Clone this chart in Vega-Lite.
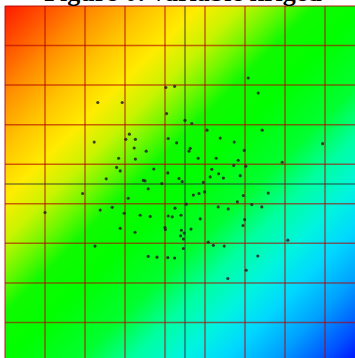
{
  "$schema": "https://vega.github.io/schema/vega-lite/v6.json",
  "width": 360,
  "height": 356,
  "autosize": {"type": "none"},
  "padding": {"left": 5, "top": 6, "right": 0, "bottom": 0},
  "background": "white",
  "title": {
    "text": "Figure 6: variable kriged",
    "font": "Liberation Serif",
    "fontWeight": "bold",
    "fontSize": 26,
    "color": "black",
    "anchor": "middle",
    "baseline": "alphabetic",
    "offset": 0,
    "dy": 22,
    "dx": -2
  },
  "config": {"view": {"stroke": null}},
  "layer": [
    {
      "data": {"values": [{"x0": 0, "x1": 9, "y0": 0, "y1": 9}]},
      "mark": {
        "type": "rect",
        "fill": {
          "gradient": "linear",
          "x1": 0, "y1": 0, "x2": 1, "y2": 1,
          "stops": [
            {"offset": 0.0, "color": "#ff1a00"},
            {"offset": 0.06, "color": "#ff5000"},
            {"offset": 0.13, "color": "#ff9000"},
            {"offset": 0.2, "color": "#ffc400"},
            {"offset": 0.27, "color": "#ffec00"},
            {"offset": 0.33, "color": "#c8f400"},
            {"offset": 0.38, "color": "#70f800"},
            {"offset": 0.43, "color": "#10fa00"},
            {"offset": 0.5, "color": "#00ff00"},
            {"offset": 0.6, "color": "#00ff30"},
            {"offset": 0.67, "color": "#00ffa0"},
            {"offset": 0.74, "color": "#00f4e0"},
            {"offset": 0.8, "color": "#00d8ff"},
            {"offset": 0.87, "color": "#00a0ff"},
            {"offset": 0.94, "color": "#0050ff"},
            {"offset": 1.0, "color": "#0000ff"}
          ]
        }
      },
      "encoding": {
        "x": {"field": "x0", "type": "quantitative", "scale": {"domain": [0, 9], "nice": false, "zero": false}, "axis": null},
        "x2": {"field": "x1"},
        "y": {"field": "y0", "type": "quantitative", "scale": {"domain": [0, 9], "nice": false, "zero": false, "reverse": true}, "axis": null},
        "y2": {"field": "y1"}
      }
    },
    {
      "data": {"values": [
        {"v": 0, "kind": "grid"}, {"v": 1, "kind": "grid"}, {"v": 2, "kind": "grid"}, {"v": 3, "kind": "grid"},
        {"v": 4, "kind": "grid"}, {"v": 5, "kind": "grid"}, {"v": 6, "kind": "grid"}, {"v": 7, "kind": "grid"},
        {"v": 8, "kind": "grid"}, {"v": 9, "kind": "grid"}, {"v": 4.5, "kind": "centre"}
      ]},
      "mark": {"type": "rule", "strokeWidth": 1.5, "opacity": 0.6},
      "encoding": {
        "x": {"field": "v", "type": "quantitative"},
        "color": {"field": "kind", "type": "nominal", "scale": {"domain": ["grid", "centre"], "range": ["#b00000", "#303030"]}, "legend": null}
      }
    },
    {
      "data": {"values": [
        {"v": 0, "kind": "grid"}, {"v": 1, "kind": "grid"}, {"v": 2, "kind": "grid"}, {"v": 3, "kind": "grid"},
        {"v": 4, "kind": "grid"}, {"v": 5, "kind": "grid"}, {"v": 6, "kind": "grid"}, {"v": 7, "kind": "grid"},
        {"v": 8, "kind": "grid"}, {"v": 9, "kind": "grid"}, {"v": 4.5, "kind": "centre"}
      ]},
      "mark": {"type": "rule", "strokeWidth": 1.5, "opacity": 0.6},
      "encoding": {
        "y": {"field": "v", "type": "quantitative"},
        "color": {"field": "kind", "type": "nominal", "legend": null}
      }
    },
    {
      "data": {"values": [
        {"x": 2.32, "y": 2.44}, {"x": 2.93, "y": 2.44}, {"x": 4.02, "y": 2.06}, {"x": 4.24, "y": 2.03},
        {"x": 4.04, "y": 2.72}, {"x": 4.50, "y": 2.89}, {"x": 4.67, "y": 2.97}, {"x": 2.23, "y": 3.44},
        {"x": 3.11, "y": 3.24}, {"x": 3.02, "y": 3.37}, {"x": 3.26, "y": 3.37}, {"x": 3.23, "y": 3.59},
        {"x": 3.53, "y": 3.67}, {"x": 3.26, "y": 3.87}, {"x": 2.84, "y": 3.85}, {"x": 4.08, "y": 3.35},
        {"x": 4.29, "y": 3.46}, {"x": 4.63, "y": 3.60}, {"x": 4.60, "y": 3.67}, {"x": 2.79, "y": 4.08},
        {"x": 2.88, "y": 4.17}, {"x": 2.53, "y": 4.37}, {"x": 3.72, "y": 4.12}, {"x": 4.07, "y": 4.22},
        {"x": 3.46, "y": 4.41}, {"x": 3.50, "y": 4.42}, {"x": 3.58, "y": 4.62}, {"x": 3.92, "y": 4.49},
        {"x": 4.35, "y": 4.36}, {"x": 4.43, "y": 4.44}, {"x": 4.71, "y": 4.78}, {"x": 4.85, "y": 4.74},
        {"x": 3.08, "y": 4.86}, {"x": 1.94, "y": 4.74}, {"x": 5.17, "y": 4.13}, {"x": 5.34, "y": 4.24},
        {"x": 5.13, "y": 4.32}, {"x": 5.46, "y": 4.35}, {"x": 5.72, "y": 4.03}, {"x": 6.02, "y": 4.05},
        {"x": 5.88, "y": 4.29}, {"x": 4.96, "y": 4.46}, {"x": 4.99, "y": 4.70}, {"x": 5.96, "y": 4.79},
        {"x": 6.58, "y": 4.73}, {"x": 4.53, "y": 5.01}, {"x": 4.25, "y": 5.11}, {"x": 5.33, "y": 5.08},
        {"x": 5.58, "y": 5.13}, {"x": 5.81, "y": 4.95}, {"x": 6.17, "y": 5.02}, {"x": 6.42, "y": 5.08},
        {"x": 4.08, "y": 5.31}, {"x": 4.18, "y": 5.33}, {"x": 4.40, "y": 5.29}, {"x": 4.88, "y": 5.38},
        {"x": 5.99, "y": 5.40}, {"x": 5.95, "y": 5.55}, {"x": 4.00, "y": 5.60}, {"x": 4.01, "y": 5.65},
        {"x": 4.41, "y": 5.67}, {"x": 4.48, "y": 5.74}, {"x": 4.65, "y": 5.64}, {"x": 4.39, "y": 5.81},
        {"x": 4.46, "y": 5.89}, {"x": 5.08, "y": 5.97}, {"x": 5.21, "y": 6.05}, {"x": 5.48, "y": 6.07},
        {"x": 4.46, "y": 6.13}, {"x": 4.07, "y": 6.36}, {"x": 4.24, "y": 6.37}, {"x": 6.32, "y": 6.32},
        {"x": 6.03, "y": 6.68}, {"x": 5.57, "y": 6.89}, {"x": 7.07, "y": 5.92}, {"x": 2.25, "y": 6.07},
        {"x": 7.94, "y": 3.48}, {"x": 6.08, "y": 1.82}, {"x": 6.33, "y": 2.20}, {"x": 5.05, "y": 3.14},
        {"x": 5.38, "y": 3.34}, {"x": 5.73, "y": 3.44}, {"x": 5.98, "y": 3.65}, {"x": 5.83, "y": 3.90},
        {"x": 5.28, "y": 3.85}, {"x": 4.83, "y": 3.85}, {"x": 6.93, "y": 3.95}, {"x": 6.43, "y": 3.14},
        {"x": 2.38, "y": 5.16}, {"x": 2.68, "y": 5.09}, {"x": 2.98, "y": 5.24}, {"x": 3.38, "y": 5.29},
        {"x": 3.63, "y": 5.32}, {"x": 2.88, "y": 5.62}, {"x": 3.58, "y": 6.33}, {"x": 3.80, "y": 6.35},
        {"x": 3.25, "y": 5.72}, {"x": 1.00, "y": 5.22}
      ]},
      "mark": {"type": "circle", "size": 10, "color": "#222222", "opacity": 0.85},
      "encoding": {
        "x": {"field": "x", "type": "quantitative"},
        "y": {"field": "y", "type": "quantitative"}
      }
    }
  ]
}
